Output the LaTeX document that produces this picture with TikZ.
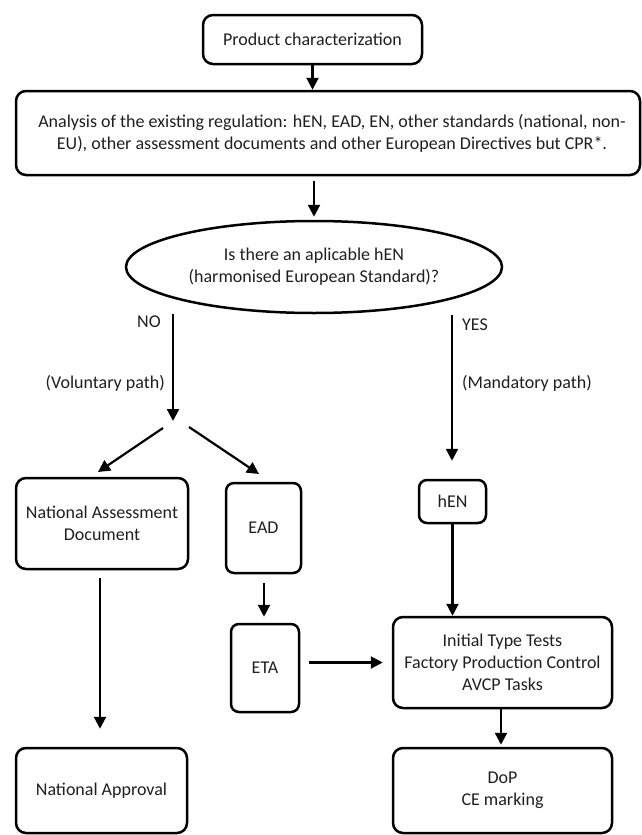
\documentclass[tikz,border=0pt]{standalone}
\usepackage{fontspec}
\setmainfont{Carlito}
\usetikzlibrary{shapes.geometric,arrows.meta}
\begin{document}
\begin{tikzpicture}[x=1pt,y=-1pt,
  every node/.style={font=\fontsize{18}{22}\selectfont, text=black!88},
  box/.style={draw, line width=2.5pt, rounded corners=10pt, inner sep=0pt, align=center},
  sbox/.style={draw, line width=2.5pt, rounded corners=8pt, inner sep=0pt, align=center},
  arr/.style={line width=2.2pt, -{Triangle[length=12pt,width=12pt]}},
  lbl/.style={inner sep=0pt}
]
\useasboundingbox (0,0) rectangle (641,835);

\node[box, minimum width=219pt, minimum height=49pt] (prod) at (312.5,39.5) {Product characterization};
\node[box, minimum width=624pt, minimum height=84pt] (ana) at (328,133)
  {\hspace*{8pt}Analysis of the existing regulation: hEN, EAD, EN, other standards (national, non-\\\hspace*{8pt}EU), other assessment documents and other European Directives but CPR*.};
\node[draw, ellipse, line width=2.5pt, inner sep=0pt, minimum width=376pt, minimum height=92pt, align=center] (q) at (314,267)
  {Is there an aplicable hEN\\(harmonised European Standard)?};

\node[lbl] (nolbl) at (149,322) {NO};
\node[lbl, anchor=east] (vol) at (165,383) {(Voluntary path)};
\node[lbl, anchor=west] (yeslbl) at (462,325) {YES};
\node[lbl, anchor=west] (man) at (462,383) {(Mandatory path)};

\node[box, minimum width=172pt, minimum height=91pt] (nad) at (102,523.5) {National Assessment\\Document};
\node[sbox, minimum width=75pt, minimum height=90pt] (ead) at (263.5,528) {EAD};
\node[sbox, minimum width=67pt, minimum height=43pt] (hen) at (452.5,501.5) {hEN};
\node[sbox, minimum width=68pt, minimum height=88pt] (eta) at (265,668) {ETA};
\node[box, minimum width=219pt, minimum height=91pt] (itt) at (502.5,662.5)
  {Initial Type Tests\\Factory Production Control\\AVCP Tasks};
\node[box, minimum width=171pt, minimum height=85pt] (na) at (101.5,790.5) {National Approval};
\node[box, minimum width=219pt, minimum height=85pt] (dop) at (502.5,790.5) {DoP\\CE marking};

\coordinate (nosrc) at (173,314);
\coordinate (notip) at (173,421);
\coordinate (dls) at (163,428);
\coordinate (dle) at (98,472);
\coordinate (drs) at (189,427);
\coordinate (dre) at (259,474);
\coordinate (yessrc) at (452,315);

\draw[arr] (prod.south) -- (prod.south |- ana.north);
\draw[arr, shorten <=5pt, shorten >=3pt] (ana.south -| q.north) -- (q.north);
\draw[arr] (nosrc) -- (notip);
\draw[arr] (dls) -- (dle);
\draw[arr] (drs) -- (dre);
\draw[arr, shorten >=18pt] (yessrc) -- (yessrc |- hen.north);
\draw[arr, shorten <=8pt, shorten >=18pt] ([xshift=-2pt]nad.south) -- ([xshift=-2pt]nad.south |- na.north);
\draw[arr, shorten <=9pt, shorten >=6pt] ([xshift=0.5pt]ead.south) -- ([xshift=0.5pt]ead.south |- eta.north);
\draw[arr, shorten <=9pt, shorten >=9pt] (eta.east |- itt.west) -- (itt.west);
\draw[arr] (hen.south) -- (hen.south |- itt.north);
\draw[arr, shorten >=2pt] ([xshift=-1.5pt]itt.south) -- ([xshift=-1.5pt]itt.south |- dop.north);
\end{tikzpicture}
\end{document}
